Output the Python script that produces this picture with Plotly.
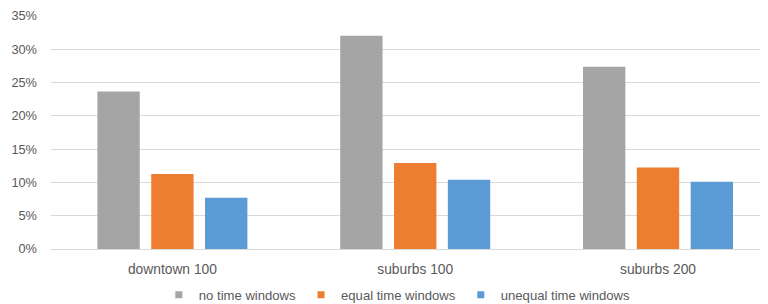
import plotly.graph_objects as go

categories = ["downtown 100", "suburbs 100", "suburbs 200"]
no_tw = [0.2365, 0.3205, 0.2738]
equal_tw = [0.1128, 0.1293, 0.1223]
unequal_tw = [0.0770, 0.1039, 0.1009]
series_names = ["no time windows", "equal time windows", "unequal time windows"]
colors = ["#A5A5A5", "#ED7D31", "#5B9BD5"]
tick_vals = [0, 0.05, 0.10, 0.15, 0.20, 0.25, 0.30, 0.35]

fig = go.Figure()
for name, vals, c in zip(series_names, [no_tw, equal_tw, unequal_tw], colors):
    fig.add_trace(go.Bar(x=categories, y=vals, name=name, showlegend=False,
                         marker=dict(color=c, line=dict(width=0))))
# legend entries with small square markers
for name, c in zip(series_names, colors):
    fig.add_trace(go.Scatter(x=[None], y=[None], mode="markers", name=name,
                             marker=dict(symbol="square", size=7, color=c)))

fig.update_layout(
    width=760, height=296,
    margin=dict(l=43, r=0, t=7.5, b=54.5, autoexpand=False),
    barmode="group", bargap=0.335, bargroupgap=0.213,
    plot_bgcolor="white", paper_bgcolor="white",
    font=dict(family="Liberation Sans, Arial, sans-serif", size=12.5, color="#595959"),
    legend=dict(orientation="h", x=0.483, xanchor="center", yref="container",
                y=0.03, yanchor="middle",
                font=dict(size=13.1, color="#595959"), itemwidth=30, traceorder="normal"),
    yaxis=dict(range=[0, 0.35], tickvals=tick_vals, tickformat=".0%",
               gridcolor="#D9D9D9", gridwidth=1, zeroline=False, showline=False,
               ticks="", ticklabelstandoff=13, tickfont=dict(size=12.8)),
    xaxis=dict(range=[-0.5, 2.453], showline=True, linecolor="#D9D9D9", linewidth=1,
               ticks="", showgrid=False, ticklabelstandoff=7, tickfont=dict(size=13.8)),
)
fig.write_html("out.html")
